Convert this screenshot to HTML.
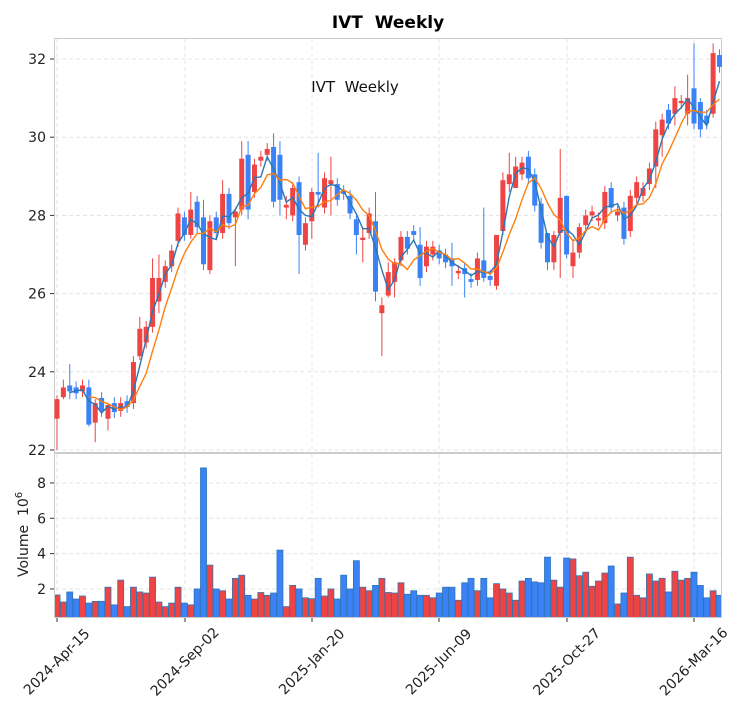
<!DOCTYPE html>
<html><head><meta charset="utf-8"><style>
body{margin:0;background:#fff;}
svg text{font-family:"DejaVu Sans","Liberation Sans",sans-serif;white-space:pre;}
</style></head><body>
<svg id="c" width="741" height="712" xmlns="http://www.w3.org/2000/svg"></svg>
<script>
const B=[[22.8,23.3,'r'],[23.35,23.6,'r'],[23.5,23.65,'b'],[23.45,23.6,'b'],[23.5,23.65,'r'],[22.65,23.6,'b'],[22.7,23.2,'r'],[23.0,23.33,'b'],[22.8,23.15,'r'],[22.97,23.2,'b'],[23.0,23.2,'r'],[23.1,23.25,'b'],[23.2,24.25,'r'],[24.4,25.1,'r'],[24.75,25.15,'r'],[25.15,26.4,'r'],[25.8,26.4,'r'],[26.3,26.7,'r'],[26.7,27.1,'r'],[27.35,28.05,'r'],[27.5,27.95,'b'],[27.5,28.15,'r'],[27.7,28.35,'b'],[26.75,27.95,'b'],[26.6,27.85,'r'],[27.55,27.95,'b'],[27.55,28.55,'r'],[27.8,28.55,'b'],[27.95,28.1,'r'],[28.15,29.45,'r'],[28.15,29.55,'b'],[28.6,29.3,'r'],[29.4,29.5,'r'],[29.55,29.7,'r'],[28.35,29.75,'b'],[28.4,29.55,'b'],[28.2,28.27,'r'],[28.0,28.7,'r'],[27.5,28.85,'b'],[27.25,27.8,'r'],[27.85,28.6,'r'],[28.53,28.6,'b'],[28.2,28.95,'r'],[28.8,28.9,'r'],[28.4,28.8,'b'],[28.55,28.62,'b'],[28.05,28.5,'b'],[27.5,27.9,'b'],[27.37,27.43,'r'],[27.55,28.05,'r'],[26.05,27.85,'b'],[25.5,25.7,'r'],[25.95,26.55,'r'],[26.3,26.8,'r'],[26.85,27.45,'r'],[27.15,27.45,'b'],[27.5,27.6,'b'],[26.4,27.25,'b'],[26.7,27.2,'r'],[27.0,27.2,'r'],[26.9,27.1,'b'],[26.8,27.0,'b'],[26.7,26.9,'b'],[26.52,26.58,'r'],[26.5,26.65,'b'],[26.3,26.37,'b'],[26.35,26.9,'r'],[26.4,26.85,'b'],[26.35,26.45,'b'],[26.2,27.5,'r'],[27.6,28.9,'r'],[28.8,29.05,'r'],[28.7,29.25,'r'],[29.05,29.35,'r'],[28.95,29.5,'b'],[28.25,29.05,'b'],[27.3,28.3,'b'],[26.8,27.55,'b'],[26.8,27.5,'r'],[27.55,28.45,'r'],[27.0,28.5,'b'],[26.7,27.05,'r'],[27.05,27.7,'r'],[27.75,28.0,'r'],[28.0,28.1,'r'],[27.87,27.93,'r'],[27.8,28.6,'r'],[28.2,28.7,'b'],[28.0,28.1,'r'],[27.4,28.2,'b'],[27.6,28.5,'r'],[28.45,28.85,'r'],[28.5,28.7,'r'],[28.8,29.2,'r'],[29.25,30.2,'r'],[30.05,30.45,'r'],[30.35,30.7,'b'],[30.6,31.0,'r'],[30.87,30.93,'r'],[30.6,31.0,'r'],[30.35,31.25,'b'],[30.2,30.9,'b'],[30.35,30.55,'b'],[30.6,32.15,'r'],[31.8,32.1,'b']];
const W={0:[22.0,23.4],1:[23.3,23.8],2:[23.3,24.2],5:[22.6,23.8],6:[22.2,23.3],8:[22.5,23.2],13:[24.3,25.4],15:[25.0,26.9],16:[25.5,27.0],21:[27.4,28.6],23:[26.6,28.4],24:[26.5,28.0],26:[27.4,28.9],28:[26.7,28.2],29:[28.0,29.9],30:[27.9,29.9],34:[28.2,30.1],35:[28.0,29.9],36:[27.9,28.5],38:[26.5,29.0],40:[27.4,28.7],41:[28.2,29.6],43:[28.0,29.5],47:[27.0,28.0],48:[26.8,27.7],50:[25.8,28.6],51:[24.4,25.9],52:[25.9,26.8],53:[25.9,26.9],57:[26.2,27.7],62:[26.2,27.3],64:[25.9,26.8],67:[26.3,28.2],69:[26.1,27.5],70:[27.5,29.1],71:[28.6,29.6],72:[28.7,29.5],77:[26.6,27.5],78:[26.6,27.6],79:[26.4,29.7],80:[26.9,28.5],81:[26.4,27.4],82:[26.9,27.8],94:[28.7,30.4],95:[29.5,30.6],97:[30.3,31.3],99:[30.3,31.6],100:[30.2,32.4],101:[30.0,31.0],103:[30.5,32.4]};
const V=[1.66,1.26,1.83,1.43,1.6,1.2,1.3,1.3,2.1,1.1,2.5,1.0,2.1,1.83,1.77,2.67,1.26,1.0,1.2,2.1,1.2,1.1,2.0,8.85,3.35,2.0,1.9,1.43,2.6,2.78,1.64,1.43,1.8,1.64,1.77,4.2,1.0,2.2,2.0,1.5,1.45,2.6,1.6,2.0,1.43,2.78,2.0,3.6,2.1,1.9,2.2,2.6,1.8,1.77,2.35,1.7,1.9,1.64,1.64,1.5,1.77,2.1,2.1,1.36,2.35,2.6,1.9,2.6,1.5,2.3,2.0,1.77,1.36,2.45,2.6,2.4,2.35,3.8,2.5,2.1,3.75,3.7,2.75,2.95,2.15,2.45,2.9,3.3,1.15,1.77,3.8,1.64,1.5,2.85,2.45,2.6,1.83,3.0,2.5,2.6,2.95,2.2,1.5,1.9,1.64];
const VC="rrbbrbrbrbrbrrrrrrrrbrbbrbrbrrbrrrbbrrbrrbrrbbbbrrbrrrrbbbrrbbbrbbrbbrrrrrbbbbrrbrrrrrrbrbrrrrrrbrrrbbbrb";
const R='#ef4444',BL='#3b82f6';
const X=i=>57+i*6.37, Y=p=>450-(p-22)*39.1, VY=v=>624.3-v*17.67;
let s='';
s+='<rect x="54.5" y="38.5" width="667" height="414" fill="none" stroke="#ccc"/>';
s+='<rect x="54.5" y="453.5" width="667" height="164" fill="none" stroke="#ccc"/>';
const dx=[57,185,312,439,567,694];
for(const x of dx){s+=`<line x1="${x}" y1="39" x2="${x}" y2="452" stroke="#e4e4e4" stroke-dasharray="4,3"/><line x1="${x}" y1="454" x2="${x}" y2="617" stroke="#e4e4e4" stroke-dasharray="4,3"/>`;}
for(let p=22;p<=32;p+=2){const y=Y(p);s+=`<line x1="55" y1="${y}" x2="721" y2="${y}" stroke="#e4e4e4" stroke-dasharray="4,3"/><line x1="50" y1="${y}" x2="54" y2="${y}" stroke="#333"/><text x="46" y="${y+5}" font-size="14" text-anchor="end" fill="#222">${p}</text>`;}
for(let v=2;v<=8;v+=2){const y=VY(v);s+=`<line x1="55" y1="${y}" x2="721" y2="${y}" stroke="#e4e4e4" stroke-dasharray="4,3"/><line x1="50" y1="${y}" x2="54" y2="${y}" stroke="#333"/><text x="46" y="${y+5}" font-size="14" text-anchor="end" fill="#222">${v}</text>`;}
const lab=['2024-Apr-15','2024-Sep-02','2025-Jan-20','2025-Jun-09','2025-Oct-27','2026-Mar-16'];
dx.forEach((x,k)=>{s+=`<line x1="${x}" y1="618" x2="${x}" y2="622" stroke="#333"/><text transform="translate(${x+3},665) rotate(-45)" font-size="14" text-anchor="middle" fill="#222">${lab[k]}</text>`;});
s+='<g clip-path="url(#vc)">';
V.forEach((v,i)=>{const x=X(i);s+=`<rect x="${x-3}" y="${VY(v)}" width="6" height="${624-VY(v)}" fill="${VC[i]=='r'?R:BL}" stroke="#2f75b5" stroke-width="0.8"/>`;});
s+='</g>';
const C=[];
B.forEach((b,i)=>{const x=X(i);const[lo,hi,c]=b;const w=W[i]||[lo-0.15,hi+0.15];const col=c=='r'?R:BL;
C.push(c=='r'?hi:lo);
s+=`<line x1="${x}" y1="${Y(w[1])}" x2="${x}" y2="${Y(w[0])}" stroke="${col}" stroke-width="1"/>`;
const h=Math.max(Y(lo)-Y(hi),1.5);s+=`<rect x="${x-2.5}" y="${Y(hi)}" width="5" height="${h}" fill="${col}"/>`;});
function ma(n,col){let p='';for(let i=n-1;i<C.length;i++){let a=0;for(let j=i-n+1;j<=i;j++)a+=C[j];a/=n;p+=(p?'L':'M')+X(i).toFixed(1)+','+Y(a).toFixed(1);}return `<path d="${p}" fill="none" stroke="${col}" stroke-width="1.4"/>`;}
s+=ma(3,'#2878b5')+ma(6,'#ff7f0e');
s+='<text x="388" y="28" font-size="17" font-weight="bold" text-anchor="middle" fill="#000">IVT&#160; Weekly</text>';
s+='<text x="355" y="92" font-size="15" text-anchor="middle" fill="#111">IVT&#160; Weekly</text>';
s+='<text transform="translate(28,577) rotate(-90)" font-size="14" fill="#222">Volume&#160; 10<tspan dy="-6" font-size="10">6</tspan></text>';
document.getElementById('c').innerHTML='<defs><clipPath id="vc"><rect x="55" y="454" width="666" height="163"/></clipPath></defs>'+s;
</script>
</body></html>
